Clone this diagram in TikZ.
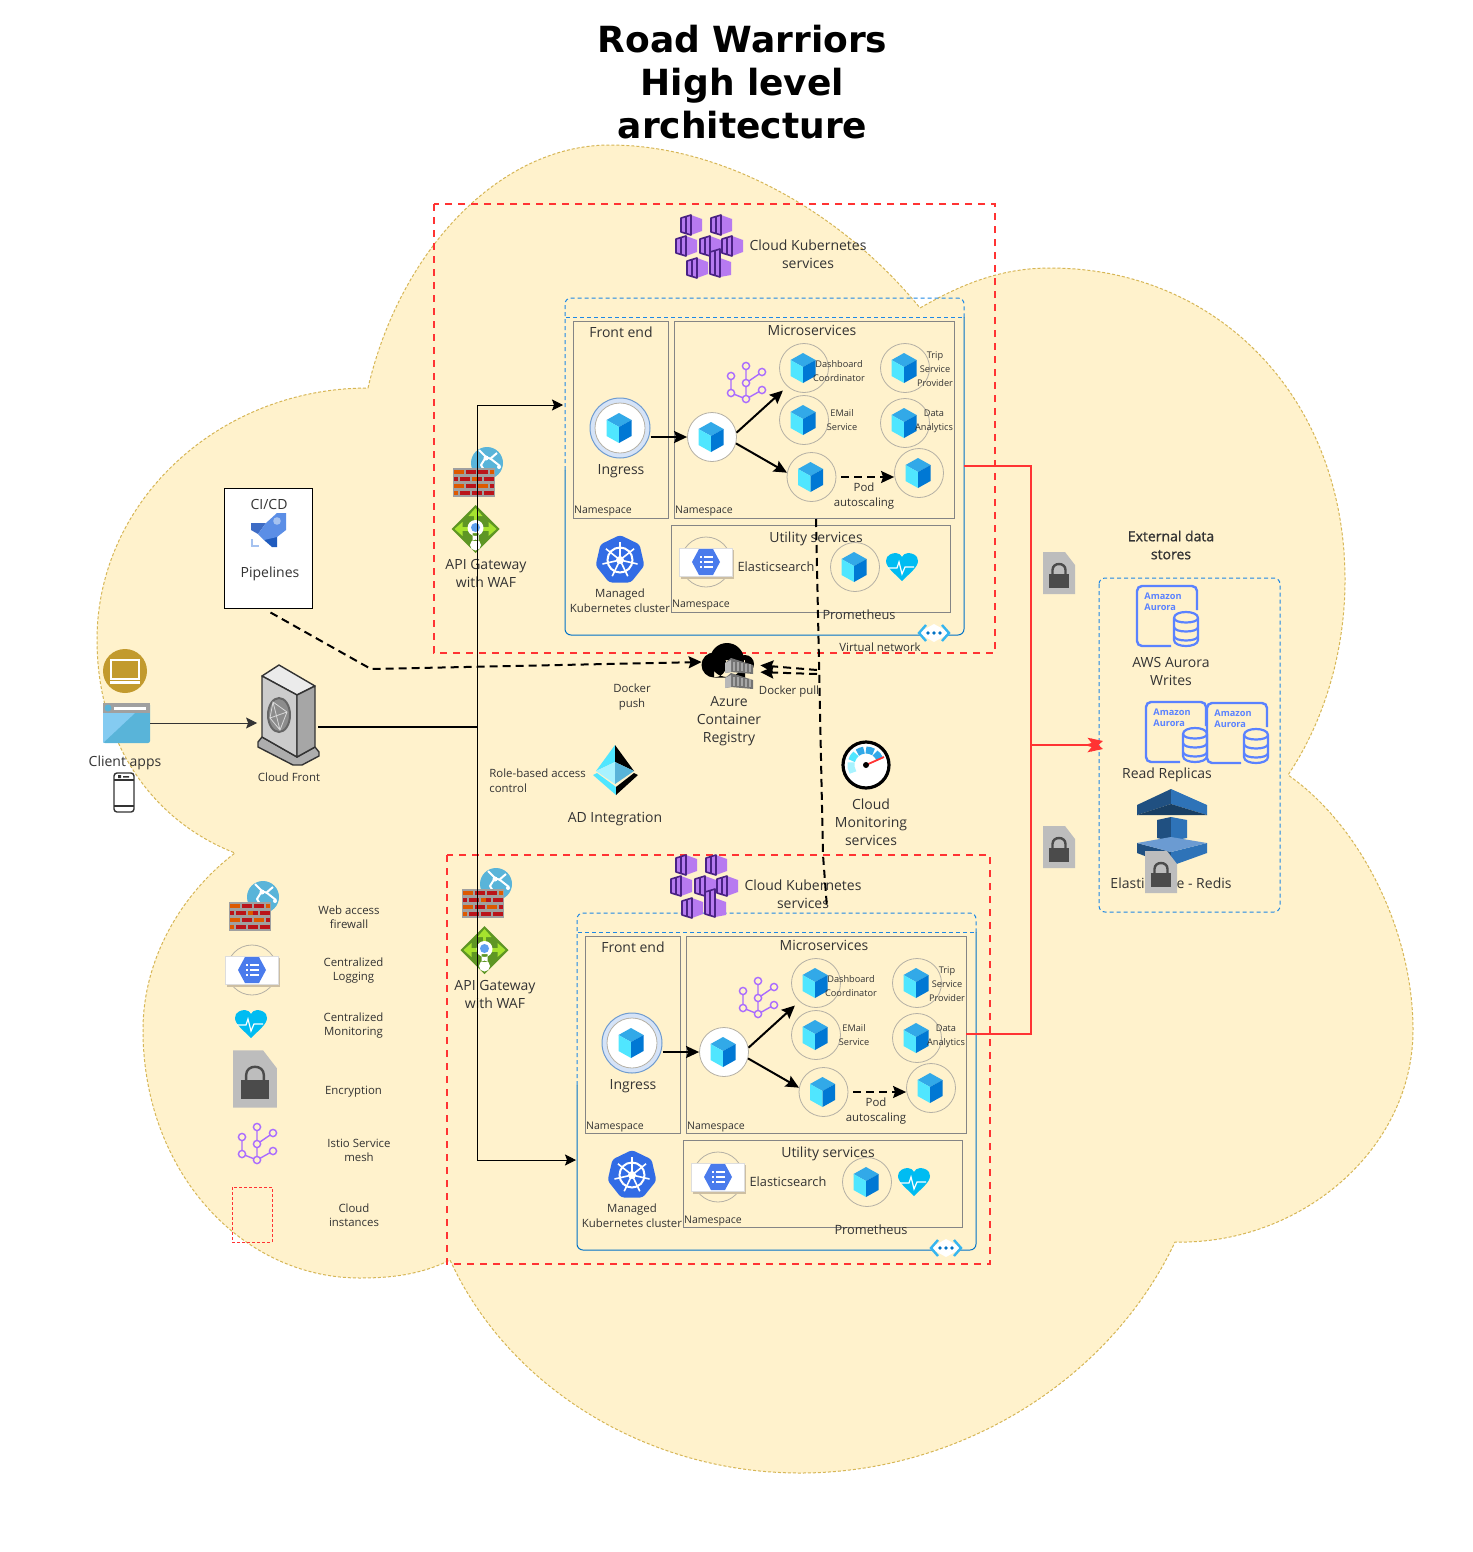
\documentclass[tikz,border=0pt]{standalone}
\usepackage{fontspec}
\setmainfont{Open Sans}
\newfontfamily\titlefont{DejaVu Sans}
\usetikzlibrary{arrows.meta}
\definecolor{cloudfill}{HTML}{FFF2CC}
\definecolor{cloudline}{HTML}{D6B656}
\definecolor{cutred}{HTML}{FF3333}
\definecolor{vnetblue}{HTML}{0072C6}
\definecolor{vnetdash}{HTML}{1E88E5}
\definecolor{framegrey}{HTML}{858585}
\definecolor{podgrey}{HTML}{B5B0A5}
\definecolor{txtgrey}{HTML}{333333}
\definecolor{auroraline}{HTML}{5A82FF}
\definecolor{meshpurple}{HTML}{A96BFF}
\definecolor{akspurple}{HTML}{B77AF0}
\definecolor{aksdark}{HTML}{4A2285}
\definecolor{cubetop}{HTML}{32A9E8}
\definecolor{cubeleft}{HTML}{50E6FF}
\definecolor{cuberight}{HTML}{0078D4}
\definecolor{heartblue}{HTML}{00BCF2}
\definecolor{lockdocgrey}{HTML}{BDBDBD}
\definecolor{lockgrey}{HTML}{4B4B4B}
\definecolor{globeblue}{HTML}{59B4D9}
\definecolor{brickbg}{HTML}{A0A0A0}
\definecolor{brickorange}{HTML}{DD5900}
\definecolor{brickred}{HTML}{BA141A}
\definecolor{gwgreen}{HTML}{5E9624}
\definecolor{gwlime}{HTML}{A6E22E}
\definecolor{gwdot}{HTML}{5EA0EF}
\definecolor{kubeblue}{HTML}{326CE5}
\definecolor{tagshadow}{HTML}{CDBFA3}
\definecolor{tagedge}{HTML}{DDDDDD}
\definecolor{hexblue}{HTML}{4A7BEC}
\definecolor{vnetcyan}{HTML}{35B5F0}
\definecolor{ringblue}{HTML}{6E9BD0}
\definecolor{paleblue}{HTML}{D5E3F7}
\definecolor{clientgold}{HTML}{C29A2E}
\definecolor{rocketmid}{HTML}{5B8EE6}
\definecolor{rocketdark}{HTML}{3E6CC5}
\definecolor{rocketdeep}{HTML}{1F5BBE}
\definecolor{rocketpale}{HTML}{A5C2F0}
\definecolor{cachedark}{HTML}{205081}
\definecolor{cachemid}{HTML}{2E73B8}
\definecolor{cachedeep}{HTML}{193F63}
\definecolor{cachelight}{HTML}{6B9BD2}
\tikzset{
  lbl/.style={font=\fontsize{7}{9}\selectfont,align=center,inner sep=0pt,text=txtgrey},
  lblsmall/.style={lbl,font=\fontsize{5.7}{7}\selectfont},
  lbltiny/.style={lbl,font=\fontsize{4.6}{6.9}\selectfont},
  lblns/.style={lbl,font=\fontsize{5.25}{7}\selectfont},
  podc/.style={circle,draw=podgrey,line width=.4pt,minimum size=24.5pt,inner sep=0pt},
  podw/.style={podc,fill=white},
  boxframe/.style={draw=framegrey,line width=.5pt},
  arr/.style={-{Stealth[length=5.5pt,width=5.5pt,inset=1pt]},line width=.5pt},
  arrbold/.style={-{Stealth[length=6.5pt,width=6pt,inset=1pt]},line width=1pt},
  darr/.style={arrbold,dash pattern=on 4pt off 2.5pt},
  redarr/.style={-{Stealth[length=7pt,width=7pt,inset=1.5pt]},cutred,line width=1pt},
  cloudbox/.style={draw=cutred,line width=1.1pt,dash pattern=on 3.5pt off 3pt},
  pics/podcube/.style={code={
    \fill[fill=cubetop] (-1,-15) -- (11.5,-8) -- (-1,-1) -- (-13.5,-8) -- cycle;
    \fill[fill=cubeleft] (-13.5,-8) -- (-1,-1) -- (-1,15) -- (-13.5,8) -- cycle;
    \fill[fill=cuberight] (11.5,-8) -- (-1,-1) -- (-1,15) -- (11.5,8) -- cycle;
  }},
  pics/heart/.style={code={
    \fill[fill=heartblue] (0,14) .. controls (-8,6) and (-16,0) .. (-16,-6) .. controls (-16,-12) and (-10,-14) .. (-6,-14) .. controls (-3,-14) and (-1,-12) .. (0,-10) .. controls (1,-12) and (3,-14) .. (6,-14) .. controls (10,-14) and (16,-12) .. (16,-6) .. controls (16,0) and (8,6) .. (0,14) -- cycle;
    \draw[white,line width=.6pt] (-14,1) -- (-5,1) -- (-3,-5) -- (0,7) -- (3,0) -- (12,0);
  }},
  pics/lockdoc/.style={code={
    \fill[fill=lockdocgrey] (-16,-21) -- (6,-21) -- (16,-8) -- (16,21) -- (-16,21) -- cycle;
    \fill[fill=lockgrey] (-10,1) rectangle (10,15);
    \draw[lockgrey,line width=1.2pt] (-6.5,2) -- (-6.5,-3) .. controls (-6.5,-11) and (6.5,-11) .. (6.5,-3) -- (6.5,2);
  }},
  pics/istio/.style={code={
    \draw[meshpurple,line width=.7pt] (0,-17) -- (0,16) (0,0) -- (16,-11) (-15,-7) -- (-15,10) -- (0,16) -- (16,7);
    \foreach \p in {(0,-17),(16,-11),(-15,-7),(0,0),(-15,10),(16,7),(0,16)}
      \draw[meshpurple,line width=.7pt,fill=cloudfill] \p circle [radius=3.6];
  }},
  pics/firewall/.style={code={
    \fill[fill=globeblue] (34,-5) circle [radius=16];
    \draw[white,line width=1pt,line join=round] (26,-18) -- (33,-11) -- (38,-9) -- (47,-2) (33,-11) -- (28,-3) -- (31,2) (37,-9) -- (44,-15);
    \fill[white] (33,-10) circle [radius=2.5] (46,-1) circle [radius=2];
    \fill[fill=brickbg] (0,0) rectangle (42,28.5);
    \foreach \x/\w/\c in {1/10/brickorange,12.5/10/brickred,25/10/brickred,37/4/brickorange}
      \fill[fill=\c] (\x,1.5) rectangle (\x+\w,6);
    \foreach \x/\w/\c in {1/4/brickred,7/10/brickred,19/5/brickorange,24/5/brickred,31/10/brickred}
      \fill[fill=\c] (\x,8.5) rectangle (\x+\w,13);
    \foreach \x/\w/\c in {1/10/brickorange,12.5/10/brickred,25/10/brickorange,37/4/brickred}
      \fill[fill=\c] (\x,15.5) rectangle (\x+\w,20);
    \foreach \x/\w/\c in {1/4/brickorange,7/10/brickred,19/10/brickred,31/10/brickred}
      \fill[fill=\c] (\x,22.5) rectangle (\x+\w,27);
  }},
  pics/gateway/.style={code={
    \fill[fill=gwgreen] (-24,0) -- (0,-24) -- (24,0) -- (0,24) -- cycle;
    \draw[gwlime,line width=1.7pt] (-15,0) -- (15,0) (0,0) -- (0,-15);
    \fill[fill=gwlime] (-21,0) -- (-13,-7) -- (-13,7) -- cycle (21,0) -- (13,-7) -- (13,7) -- cycle (0,-21) -- (-7,-13) -- (7,-13) -- cycle;
    \fill[white] (0,-1) circle [radius=8] (-3,4) rectangle (3,12) (0,16) circle [radius=5.5];
    \fill[fill=gwdot] (0,-1.5) circle [radius=4.5];
  }},
  pics/akscube/.style={code={
    \fill[akspurple] (0,-10) -- (11,-6) -- (11,6) -- (0,10) -- cycle;
    \draw[aksdark,line width=.8pt,fill=akspurple,line join=round] (-10,-7) -- (0,-10) -- (0,10) -- (-10,7) -- cycle (-5,-8) -- (-5,8);
  }},
  pics/aksicon/.style={code={
    \foreach \x/\y in {-16/-22,14/-22,-21/-1,3/-1,25/-1,-10/21}
      \pic at (\x,\y) {akscube};
    \fill[akspurple] (13,11) -- (24,15) -- (24,28) -- (13,30) -- cycle;
    \draw[aksdark,line width=.8pt,fill=akspurple,line join=round] (3,5) -- (13,2) -- (13,30) -- (3,27) -- cycle (8,4) -- (8,28);
  }},
  pics/k8sicon/.style={code={
    \fill[fill=kubeblue,rounded corners=1.5pt] (270:25) \foreach \a in {1,...,6}{ -- (270+\a*51.43:25)} -- cycle;
    \draw[white,line width=1pt] (0,0) circle [radius=12.5];
    \foreach \a in {1,...,7}
      \draw[white,line width=.8pt] (0,0) -- (270+\a*51.43:18);
    \fill[white] (0,0) circle [radius=4];
  }},
  pics/elasticon/.style={code={
    \draw[podgrey,line width=.4pt] (0,0) circle [radius=25];
    \fill[fill=tagshadow] (-25,-12) rectangle (28,17);
    \fill[white] (-27,-14) rectangle (26,14);
    \draw[tagedge,line width=.4pt] (-27,-14) rectangle (26,14);
    \fill[fill=hexblue] (-14,0) -- (-7,-13) -- (7,-13) -- (14,0) -- (7,13) -- (-7,13) -- cycle;
    \draw[white,line width=.7pt] (-2,-5) -- (7,-5) (-2,0) -- (7,0) (-2,5) -- (7,5) (-6,-5) -- (-4,-5) (-6,0) -- (-4,0) (-6,5) -- (-4,5);
  }},
  pics/vneticon/.style={code={
    \fill[white] (0,-9) -- (16,0) -- (0,9) -- (-16,0) -- cycle;
    \draw[vnetcyan,line width=1.2pt] (-8,-8) -- (-15,0) -- (-8,8) (8,-8) -- (15,0) -- (8,8);
    \foreach \x in {-6,0,6}
      \fill[fill=vnetblue] (\x,0) circle [radius=1.8];
  }},
  pics/auroraicon/.style={code={
    \draw[auroraline,line width=1.2pt,rounded corners=2.5pt] (60,24) -- (60,0) -- (0,0) -- (0,60) -- (34,60);
    \node[anchor=north west,align=left,inner sep=0pt,text=auroraline,font=\bfseries\fontsize{4.6}{5.7}\selectfont] (awstag) at (7,6) {Amazon\\Aurora};
    \draw[auroraline,line width=1.1pt,fill=cloudfill] (37,32) -- (37,54) .. controls (37,62) and (61,62) .. (61,54) -- (61,32) .. controls (61,24) and (37,24) .. (37,32) -- cycle;
    \foreach \y in {32,41,50}
      \draw[auroraline,line width=1.1pt] (37,\y) .. controls (37,\y+6) and (61,\y+6) .. (61,\y);
  }},
  pics/kcluster/.style={code={
    \draw[vnetdash,line width=.5pt,dash pattern=on 2pt off 1.5pt,rounded corners=3pt] (565,470) -- (565,298) -- (964,298) -- (964,320);
    \draw[vnetdash,line width=.5pt,dash pattern=on 2pt off 1.5pt] (566,317) -- (963,317);
    \draw[vnetblue,line width=.5pt,rounded corners=3pt] (565,470) -- (565,635) -- (964,635) -- (964,317);
    \draw[boxframe] (573,321) rectangle (668,518);
    \draw[boxframe] (674,321) rectangle (954,518);
    \draw[boxframe] (671,525) rectangle (950,612);
    \node[lbl] (fronttitle) at (621,332) {Front end};
    \node[lbl] (microtitle) at (812,330) {Microservices};
    \node[lbl] (utiltitle) at (816,538.5) {Utility services};
    \node[lblns] (ns1) at (603,511.5) {Namespace};
    \node[lblns] (ns2) at (704,511.5) {Namespace};
    \node[lblns] (ns3) at (701,605.5) {Namespace};
    \node[circle,draw=ringblue,fill=paleblue,line width=.5pt,minimum size=30pt,inner sep=0pt] (ingress) at (620,428) {};
    \node[podw,minimum size=25pt] (ingressin) at (620,428) {};
    \pic at (ingress) {podcube};
    \node[lbl] (ingresstxt) at (621,471) {Ingress};
    \node[podw] (central) at (712,437) {};
    \node[podc] (dash) at (804,368) {};
    \node[podc] (trip) at (905,368) {};
    \node[podc] (email) at (804,420) {};
    \node[podc] (data) at (905,423) {};
    \node[podc] (pod) at (811.5,477) {};
    \node[podc] (scaled) at (919,473) {};
    \node[podc] (prom) at (855,567) {};
    \foreach \n in {central,dash,trip,email,data,pod,scaled,prom}
      \pic at (\n) {podcube};
    \node[lbltiny] (dashtxt) at (839,371) {Dashboard\\Coordinator};
    \node[lbltiny] (triptxt) at (935,369) {Trip\\Service\\Provider};
    \node[lbltiny] (emailtxt) at (842,420) {EMail\\Service};
    \node[lbltiny] (datatxt) at (934,421) {Data\\Analytics};
    \node[lblsmall,font=\fontsize{5.7}{7.5}\selectfont] (podtxt) at (864,496) {Pod\\autoscaling};
    \pic at (746,383) {istio};
    \draw[arrbold] (ingress.east |- central) -- (central.west);
    \draw[arrbold,shorten >=3pt] (central.10) -- (dash.228);
    \draw[arrbold] (central.-15) -- (pod.170);
    \draw[darr,shorten <=2.5pt] (pod.east) -- (pod.east -| scaled.west);
    \pic at (706,562) {elasticon};
    \node[lblsmall,font=\fontsize{6.4}{8}\selectfont] (elastxt) at (776,567) {Elasticsearch};
    \pic at (902,567) {heart};
    \node[lbl,font=\fontsize{6.4}{8}\selectfont] (promtxt) at (859,615) {Prometheus};
    \pic at (620,560) {k8sicon};
    \node[lblsmall,font=\fontsize{5.7}{7.4}\selectfont] (k8stxt) at (620,600.5) {Managed\\Kubernetes cluster};
    \pic at (934,633) {vneticon};
  }}
}
\begin{document}
\begin{tikzpicture}[x=.5pt,y=-.5pt]
\useasboundingbox (0,0) rectangle (1472,1552);
\fill[white] (0,0) rectangle (1472,1552);
\draw[cloudline,fill=cloudfill,line width=.5pt,dash pattern=on 1.5pt off 1pt] (368,388) .. controls (400,250) and (500,145) .. (610,145) .. controls (720,145) and (840,210) .. (920,308) .. controls (960,285) and (1000,268) .. (1050,268) .. controls (1220,268) and (1345,400) .. (1345,580) .. controls (1345,650) and (1325,720) .. (1288,775) .. controls (1360,825) and (1413,930) .. (1413,1030) .. controls (1413,1150) and (1300,1245) .. (1175,1242) .. controls (1110,1380) and (960,1473) .. (800,1473) .. controls (650,1473) and (510,1390) .. (450,1260) .. controls (420,1275) and (390,1278) .. (360,1278) .. controls (240,1278) and (143,1170) .. (143,1030) .. controls (143,960) and (180,895) .. (235,853) .. controls (150,820) and (97,740) .. (97,640) .. controls (97,500) and (220,388) .. (368,388) -- cycle;
\node[font=\titlefont\bfseries\fontsize{18}{21.5}\selectfont,align=center,inner sep=0pt] (title) at (742.5,82) {Road Warriors\\High level\\architecture};
\draw[cloudbox] (434,204) rectangle (995,653);
\draw[cloudbox] (447,855) rectangle (990,1264);
\pic (top) at (0,0) {kcluster};
\pic (low) at (12,615) {kcluster};
\node[lblsmall] (vnettxt) at (880,647) {Virtual network};
\pic at (707,247) {aksicon};
\pic at (702,887) {aksicon};
\node[lbl] (akstop) at (808,254) {Cloud Kubernetes\\services};
\node[lbl] (akslow) at (803,894) {Cloud Kubernetes\\services};
\pic at (453,468) {firewall};
\pic at (462,889) {firewall};
\pic at (475.5,529) {gateway};
\pic at (484.5,950) {gateway};
\node[lbl] (gwtop) at (486,573) {API Gateway\\with WAF};
\node[lbl] (gwlow) at (495,994) {API Gateway\\with WAF};
\node[draw=black,fill=white,line width=.5pt,minimum width=44pt,minimum height=60pt,inner sep=0pt] (cicd) at (268.5,548) {};
\node[lbl] (cicdtxt) at (269,504) {CI/CD};
\node[lbl] (pipetxt) at (270,574) {Pipelines};
\fill[fill=rocketdark] (251,523) -- (266,523) -- (258,534) -- (251,530) -- cycle;
\fill[fill=rocketdeep] (277,533) -- (277,547) -- (272,547) -- (264,540) -- cycle;
\fill[fill=rocketmid] (258,534) -- (266,523) -- (277,513) -- (286,513) -- (286,530) -- (277,537) -- (264,540) -- cycle;
\fill[fill=rocketpale] (277,521) circle [radius=3.8];
\draw[rocketpale,line width=.9pt] (252,539) -- (252,546) -- (259,546);
\fill[fill=clientgold] (125,671) circle [radius=22];
\draw[white,line width=1.1pt] (111,660) rectangle (139,679);
\draw[white,line width=1.1pt] (110,682.5) -- (140,682.5);
\node[fill=globeblue,minimum width=23.5pt,minimum height=20pt,inner sep=0pt,rounded corners=1pt] (browser) at (126.5,723) {};
\fill[fill=brickbg] (103,703) rectangle (150,713);
\fill[fill=cubetop!60!white] (103,743) -- (135,713) -- (103,713) -- cycle;
\fill[white] (114,707) rectangle (146,709.5);
\fill[fill=globeblue] (108,708) circle [radius=3.5];
\node[lbl] (clienttxt) at (125,763) {Client apps};
\draw[txtgrey,line width=.7pt,fill=white,rounded corners=1.5pt] (114,773) rectangle (134,812);
\draw[txtgrey,line width=.6pt] (114,780) -- (134,780) (114,806) -- (134,806);
\fill[fill=txtgrey] (118,775) rectangle (121,778) (123,776) rectangle (129,777.5);
\draw[txtgrey,line width=.7pt,fill=black!32,line join=round] (258,742) -- (262,737) -- (297,757) -- (315,747) -- (319,752) -- (319,756) -- (302,765) -- (293,765) -- (258,747) -- cycle;
\draw[txtgrey,line width=.7pt,fill=black!8,line join=round] (262,676) -- (279,665) -- (315,686) -- (297,695) -- cycle;
\draw[txtgrey,line width=.7pt,fill=black!20,line join=round] (262,676) -- (297,695) -- (297,757) -- (262,737) -- cycle;
\draw[txtgrey,line width=.7pt,fill=black!35,line join=round] (297,695) -- (315,686) -- (315,747) -- (297,757) -- cycle;
\draw[black!60,line width=1pt,fill=black!45] (279,715) ellipse [x radius=11,y radius=17];
\draw[black!15,line width=.4pt] (273,702) -- (287,712) -- (280,730) -- (270,718) -- cycle (273,702) -- (280,730) (287,712) -- (270,718);
\node[lblsmall] (cftxt) at (289,777) {Cloud Front};
\node[minimum width=30.5pt,minimum height=49pt,inner sep=0pt] (cfront) at (288,723) {};
\fill[black] (727,660) circle [radius=17] (714,665) circle [radius=12.5] (745,664) circle [radius=9] (714,660) rectangle (745,677.5);
\foreach \y in {0,15}{
  \fill[black!55] (725,{\y+663}) -- (731,{\y+658}) -- (753,{\y+665}) -- (753,{\y+674}) -- (731,{\y+672}) -- (725,{\y+673}) -- cycle;
  \fill[black!28] (725,{\y+663}) -- (731,{\y+660}) -- (731,{\y+672}) -- (725,{\y+673}) -- cycle;
  \foreach \x in {733,737,...,749}
    \fill[black!35] (\x,{\y+661.5+(\x-733)*.18}) rectangle (\x+2.4,{\y+670.5+(\x-733)*.1});
}
\node[minimum width=27pt,minimum height=24pt,inner sep=0pt] (acr) at (729,662) {};
\node[lbl] (acrtxt) at (729,721) {Azure\\Container\\Registry};
\node[lblsmall,font=\fontsize{5.7}{7.5}\selectfont] (pushtxt) at (632,697) {Docker\\push};
\node[lblsmall] (pulltxt) at (789,692) {Docker pull};
\node[lblsmall,align=left,anchor=west,font=\fontsize{5.7}{7.4}\selectfont] (rbactxt) at (489,780.5) {Role-based access\\control};
\fill[fill=cubeleft] (615,745) -- (596,771) -- (615,762) -- cycle;
\fill[black] (615,745) -- (634,771) -- (615,762) -- cycle;
\fill[fill=cubeleft!50!white] (596,771) -- (615,762) -- (615,784) -- cycle;
\fill[fill=globeblue] (634,771) -- (615,762) -- (615,784) -- cycle;
\fill[fill=cubeleft] (593,775) -- (597,773) -- (616,787) -- (616,795) -- cycle;
\fill[black] (638,775) -- (634,773) -- (616,787) -- (616,795) -- cycle;
\node[lbl] (adtxt) at (615,819) {AD Integration};
\draw[black,line width=1.6pt,fill=white] (866,765) circle [radius=23];
\foreach \a/\b/\c in {150/190/cubeleft!50!white,197/228/cubeleft,235/262/cubetop,270/300/cubetop,307/335/cubetop}
  \draw[\c,line width=3.5pt,shift={(866,765)}] (\a:15) -- ({(\a+\b)/2}:15) -- (\b:15);
\draw[cutred,line width=.9pt] (866,765) -- (884,757);
\fill[black] (866,765) circle [radius=3];
\node[lbl] (gaugetxt) at (871,822) {Cloud\\Monitoring\\services};
\node[lbl,font=\fontsize{7}{9}\selectfont\addfontfeatures{FakeBold=1}] (exttxt) at (1171,545) {External data\\stores};
\draw[vnetdash,line width=.5pt,dash pattern=on 2pt off 1.5pt,rounded corners=3pt] (1099,578) rectangle (1280,912);
\node[minimum width=90pt,minimum height=167pt,inner sep=0pt] (extbox) at (1189.5,745) {};
\pic at (1137,586) {auroraicon};
\pic at (1146,702) {auroraicon};
\pic at (1207,703) {auroraicon};
\node[lbl] (writetxt) at (1171,671) {AWS Aurora\\Writes};
\node[lbl] (readtxt) at (1167,775) {Read Replicas};
\fill[fill=cachedark] (1171,789) -- (1137,805) -- (1137,815) -- (1171,804) -- cycle;
\fill[fill=cachemid] (1171,789) -- (1207,805) -- (1207,815) -- (1171,804) -- cycle;
\fill[fill=cachedeep] (1137,815) -- (1171,804) -- (1207,815) -- cycle;
\fill[fill=cachedark] (1157,820) -- (1171,817) -- (1171,841) -- (1157,838) -- cycle;
\fill[fill=cachemid] (1171,817) -- (1187,820) -- (1187,838) -- (1171,841) -- cycle;
\fill[fill=cachedark] (1137,843) -- (1137,853) -- (1171,866) -- (1171,852) -- cycle;
\fill[fill=cachemid] (1207,843) -- (1207,853) -- (1171,866) -- (1171,852) -- cycle;
\fill[fill=cachelight] (1137,843) -- (1171,837) -- (1207,843) -- (1171,852) -- cycle;
\node[lbl] (redistxt) at (1171,883) {ElastiCache - Redis};
\pic at (1161,872) {lockdoc};
\pic at (1059,573) {lockdoc};
\pic at (1059,847) {lockdoc};
\pic at (229,902) {firewall};
\pic at (252,970) {elasticon};
\pic at (251,1024) {heart};
\pic[scale=1.36] at (255,1079) {lockdoc};
\pic at (257,1144) {istio};
\draw[cutred,line width=.4pt,dash pattern=on 1.5pt off 1pt] (232,1187) rectangle (272,1242);
\node[lblsmall] (leg1) at (349,917) {Web access\\firewall};
\node[lblsmall] (leg2) at (353.5,971) {Centralized\\Logging};
\node[lblsmall] (leg3) at (353.5,1026) {Centralized\\Monitoring};
\node[lblsmall] (leg4) at (353.5,1092) {Encryption};
\node[lblsmall] (leg5) at (359,1150) {Istio Service\\mesh};
\node[lblsmall] (leg6) at (354,1215) {Cloud\\instances};
\coordinate (cfout) at (318,727);
\coordinate (trunk) at (477,727);
\coordinate (topin) at (563,405);
\coordinate (lowin) at (576,1160);
\coordinate (pipeturn) at (371,669);
\coordinate (podtop) at (816,519);
\coordinate (podmid) at (823,855);
\coordinate (podlow) at (827,908);
\coordinate (pullA) at (817,670);
\coordinate (pullB) at (817,674);
\coordinate (redtop) at (964,466);
\coordinate (redlow) at (966,1034);
\coordinate (redmid) at (1031,745);
\coordinate (redpre) at (1088,745);
\draw[arr,txtgrey] (browser.east) -- (cfront.west);
\draw[line width=1pt] (cfout) -- (trunk);
\draw[arr] (trunk) |- (topin);
\draw[arr] (trunk) |- (lowin);
\draw[darr] (cicd.south) ++(2,4) -- (pipeturn) -- (acr.west);
\draw[line width=1pt,dash pattern=on 4pt off 2.5pt] (podtop) -- (podmid) -- (podlow);
\draw[darr,shorten >=2pt] (pullA) -- ([yshift=-1.5pt]acr.east);
\draw[darr,shorten >=2pt] (pullB) -- ([yshift=-5pt]acr.east);
\draw[cutred,line width=1pt] (redtop) -| (redmid) |- (redlow);
\draw[cutred,line width=1pt] (redmid) -- (redpre);
\draw[redarr,shorten >=-2pt] (redpre) -- ([yshift=1.5pt]extbox.west);
\draw[redarr,shorten >=-2pt] (redpre) -- ([yshift=-1.5pt]extbox.west);
\end{tikzpicture}
\end{document}
